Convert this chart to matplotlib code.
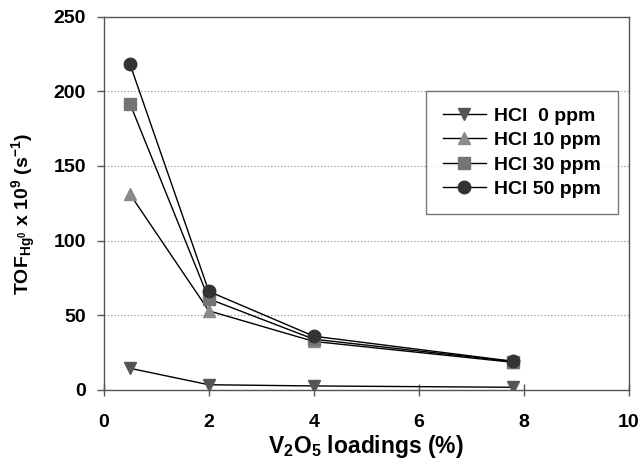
import matplotlib
matplotlib.use('Agg')
import matplotlib.pyplot as plt

plt.rcParams['font.family'] = ['Liberation Sans', 'DejaVu Sans']
plt.rcParams['font.weight'] = 'bold'
plt.rcParams['mathtext.fontset'] = 'custom'
plt.rcParams['mathtext.rm'] = 'Liberation Sans:bold'
plt.rcParams['mathtext.it'] = 'Liberation Sans:bold'
plt.rcParams['mathtext.bf'] = 'Liberation Sans:bold'
plt.rcParams['mathtext.default'] = 'rm'

# V2O5 loadings (%)
loadings = [0.5, 2, 4, 7.8]

# TOF values per HCl concentration
hcl_0 = [14.5, 3.5, 2.7, 1.8]
hcl_10 = [131, 53, 32.5, 18.5]
hcl_30 = [191.5, 61, 34, 19]
hcl_50 = [218, 66, 36, 19.2]

series = [
    ('HCl  0 ppm', hcl_0, 'v', '#555555'),
    ('HCl 10 ppm', hcl_10, '^', '#8a8a8a'),
    ('HCl 30 ppm', hcl_30, 's', '#747474'),
    ('HCl 50 ppm', hcl_50, 'o', '#333333'),
]

fig = plt.figure(figsize=(6.41, 4.75), dpi=100)
ax = fig.add_axes([0.162, 0.179, 0.819, 0.786])

for label, vals, mk, col in series:
    ax.plot(loadings, vals, color='black', lw=1.0, marker=mk, markersize=9,
            markerfacecolor=col, markeredgecolor=col, label=label)

ax.set_xlim(0, 10)
ax.set_ylim(0, 250)
ax.set_xticks([0, 2, 4, 6, 8, 10])
ax.set_yticks([0, 50, 100, 150, 200, 250])
ax.yaxis.grid(True, linestyle=(0, (1, 2)), color='#888888', lw=0.8)
ax.set_axisbelow(True)

for sp in ax.spines.values():
    sp.set_color('#555555')
    sp.set_linewidth(1.0)

ax.tick_params(axis='x', direction='inout', length=8, width=1, color='#555555',
               labelsize=14, pad=13)
ax.tick_params(axis='y', direction='out', length=5, width=1, color='#555555',
               labelsize=14, pad=8)

ax.set_xlabel(r'V$_2$O$_5$ loadings (%)', fontsize=16.5, fontweight='bold', labelpad=2)
ax.set_ylabel(r'TOF$_{\mathrm{Hg}^{0}}$ x 10$^{9}$ (s$^{-1}$)', fontsize=14,
              fontweight='bold')
ax.yaxis.set_label_coords(-0.125, 0.47)

leg = ax.legend(loc='upper right', bbox_to_anchor=(0.979, 0.801), fontsize=14,
                frameon=True, fancybox=False, edgecolor='#555555',
                handlelength=2.2, labelspacing=0.34, borderpad=0.85,
                handletextpad=0.45, borderaxespad=0)
leg.get_frame().set_linewidth(1.0)

fig.savefig('out.png', dpi=100)
